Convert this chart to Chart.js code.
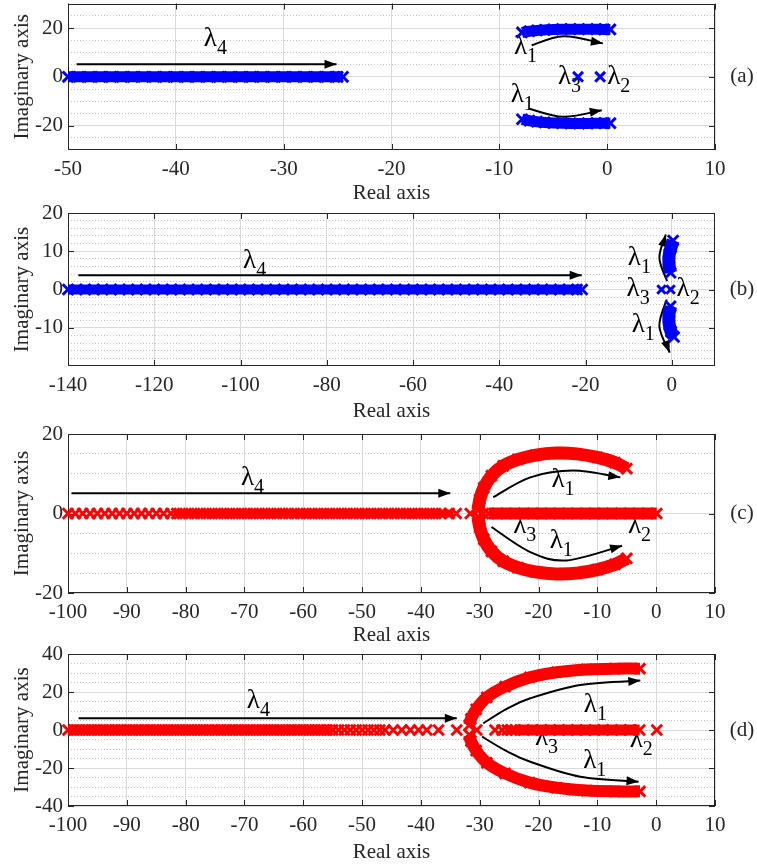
<!DOCTYPE html>
<html>
<head>
<meta charset="utf-8">
<script src="https://cdn.jsdelivr.net/npm/chart.js@4.4.0/dist/chart.umd.min.js"></script>
<style>
  html, body { margin: 0; padding: 0; background: #fff; width: 757px; height: 867px; overflow: hidden; position: relative; }
  canvas { position: absolute; left: 0; }
</style>
</head>
<body>
<canvas id="pa" width="757" height="220" style="top:-14px"></canvas>
<canvas id="pb" width="757" height="229" style="top:195px"></canvas>
<canvas id="pc" width="757" height="234" style="top:414px"></canvas>
<canvas id="pd" width="757" height="231" style="top:634px"></canvas>
<script>
const FONT = '"Liberation Serif", "Times New Roman", serif';
const AXIS = '#262626';
const GRID = '#dadada';
const MINOR = '#c4c4c4';
const BLUE = '#0000ff';
const RED = '#ff0000';

// ---- panel (a) ----
const aRealTicks = [-50, -40, -30, -20, -10, 0, 10];
const aImagTicks = [-20, 0, 20];
const aLam4Re = [-50, -49, -48, -47, -46, -45, -44, -43, -42, -41, -40, -39, -38, -37, -36, -35, -34, -33, -32, -31, -30, -29, -28, -27, -26, -25, -24.5];
const aLam1Re = [-7.9, -7.2, -6.5, -5.8, -5.0, -4.2, -3.4, -2.6, -1.8, -1.0, -0.3, 0.3];
const aLam1UpIm = [18.2, 18.7, 19.0, 19.2, 19.4, 19.5, 19.5, 19.5, 19.5, 19.5, 19.4, 19.4];
const aLam1LoIm = [-17.4, -18.0, -18.4, -18.7, -18.9, -19.0, -19.1, -19.1, -19.1, -19.0, -19.0, -19.0];
const aLam3Re = [-2.7];
const aLam2Re = [-0.65];

// ---- panel (b) ----
const bRealTicks = [-140, -120, -100, -80, -60, -40, -20, 0];
const bImagTicks = [-10, 0, 10, 20];
const bLam4Re = [-140, -138, -136, -134, -132, -130, -128, -126, -124, -122, -120, -118, -116, -114, -112, -110, -108, -106, -104, -102,
  -100, -98, -96, -94, -92, -90, -88, -86, -84, -82, -80, -78, -76, -74, -72, -70, -68, -66, -64, -62,
  -60, -58, -56, -54, -52, -50, -48, -46, -44, -42, -40, -38, -36, -34, -32, -30, -28, -26, -24, -22, -20.8];
const bLam1UpRe = [0.3, -0.2, -0.6, -0.7, -0.6, -0.3];
const bLam1UpIm = [12.8, 11.0, 9.2, 7.6, 6.0, 4.4];
const bLam1LoRe = [-0.3, -0.6, -0.7, -0.6, -0.2, 0.5];
const bLam1LoIm = [-4.4, -6.0, -7.6, -9.2, -11.0, -12.4];
const bLam3Re = [-2.4];
const bLam2Re = [-0.3];

// ---- panel (c) ----
const cRealTicks = [-100, -90, -80, -70, -60, -50, -40, -30, -20, -10, 0, 10];
const cImagTicks = [-20, 0, 20];
const cLam4Re = [-100, -98.75, -97.5, -96.25, -95, -93.75, -92.5, -91.25, -90, -88.75, -87.5, -86.25, -85, -83.75, -82.5,
  -81.5, -80.5, -79.5, -78.5, -77.5, -76.5, -75.5, -74.5, -73.5, -72.5, -71.5, -70.5, -69.5, -68.5, -67.5, -66.5,
  -65.5, -64.5, -63.5, -62.5, -61.5, -60.5, -59.5, -58.5, -57.5, -56.5, -55.5, -54.5, -53.5, -52.5, -51.5, -50.5,
  -49.5, -48.5, -47.5, -46.5, -45.5, -44.5, -43.5, -42.5, -41.5, -40.5, -39.5, -38.5, -37.5, -36.5, -35.2, -34.0,
  -31.6, -29.4];
const cLam4DenseRe = [-82, -34.5];
const cLam3Re = [-28.5, -27, -25.5, -24, -22.5, -21, -19.5, -18, -16.5, -15, -13.5, -12, -10.5, -9, -7.5, -6, -4.5, -3, -1.5, 0.1];
const cLam1Re = [-30.3, -30.0, -29.3, -28.0, -26.0, -23.5, -20.5, -17.0, -13.5, -10.0, -7.0, -5.0];
const cLam1UpIm = [0.8, 3.5, 6.5, 9.5, 12.0, 13.6, 14.7, 15.2, 15.0, 14.1, 12.8, 11.3];
const cLam1LoIm = [-0.8, -3.5, -6.5, -9.5, -12.0, -13.6, -14.7, -15.2, -15.0, -14.1, -12.8, -11.3];

// ---- panel (d) ----
const dRealTicks = [-100, -90, -80, -70, -60, -50, -40, -30, -20, -10, 0, 10];
const dImagTicks = [-40, -20, 0, 20, 40];
const dLam4Re = [-100, -99, -98, -97, -96, -95, -94, -93, -92, -91, -90, -89, -88, -87, -86, -85, -84, -83, -82, -81,
  -80, -79, -78, -77, -76, -75, -74, -73, -72, -71, -70, -69, -68, -67, -66, -65, -64, -63, -62, -61,
  -60, -59, -58, -57, -56, -55, -54, -53, -52, -51, -50, -49, -48, -47,
  -46.1, -44.7, -43.25, -41.8, -40.4, -39.0, -37.0, -33.9];
const dLam4DenseRe = [-100, -55];
const dLam3SparseRe = [-30.5, -27.4, -26.2, -25.3, -24.6];
const dLam3Re = [-24, -22.5, -21, -19.5, -18, -16.5, -15, -13.5, -12, -10.5, -9, -7.5, -6, -4.5, -2.8];
const dLam2Re = [0.1];
const dLam1Re = [-31.8, -31.5, -30.6, -28.8, -25.7, -21.5, -16.9, -11.8, -7.0, -2.75];
const dLam1UpIm = [2.5, 5.8, 10.9, 17.2, 22.8, 27.7, 30.4, 31.9, 32.3, 32.3];
const dLam1LoIm = [-2.5, -5.8, -10.9, -17.2, -22.8, -27.7, -30.4, -31.9, -32.3, -32.3];

// annotations (data coordinates)
const aArrows = [[[-49.2, 5.1], [-25.1, 5.1]], [[-7.0, 12.9], [-4.05, 16.6], [-0.4, 13.7]], [[-7.2, -13.1], [-4.05, -16.4], [-0.5, -13.7]]];
const bArrows = [[[-137.6, 3.7], [-20.9, 3.7]], [[-1.1, 2.2], [-2.9, 8.3], [-1.4, 14.4]], [[-1.2, -2.6], [-2.9, -9.6], [-0.5, -16.5]]];
const cArrows = [[[-99.4, 5.1], [-35.0, 5.1]], [[-27.7, 4.1], [-21.4, 9.1], [-14.1, 10.8], [-6.1, 9.1]], [[-28, -3.4], [-21.4, -9.7], [-15.2, -11.8], [-5.8, -8.1]]];
const dArrows = [[[-98.2, 6.2], [-33.9, 6.2]], [[-29.4, 3.5], [-25.5, 11], [-21.4, 16.7], [-12.9, 23.7], [-2.7, 26]], [[-29.6, -3.5], [-25.5, -11], [-21.4, -16.7], [-12.9, -24.6], [-3.0, -27.2]]];

const aLabels = [[-37.4, 12.8, '4'], [-8.64, 9.2, '1'], [-4.56, -3.0, '3'], [0.0, -3.0, '2'], [-8.95, -10.5, '1']];
const bLabels = [[-99.4, 5.7, '4'], [-10.2, 6.5, '1'], [-10.5, -1.8, '3'], [1.1, -1.8, '2'], [-9.3, -11.2, '1']];
const cLabels = [[-70.6, 7.1, '4'], [-17.8, 6.6, '1'], [-24.3, -5.0, '3'], [-18.1, -8.7, '1'], [-4.8, -5.0, '2']];
const dLabels = [[-69.6, 11.6, '4'], [-12.3, 9.5, '1'], [-20.6, -7.9, '3'], [-4.5, -8.9, '2'], [-12.4, -20, '1']];

const onAxis = re => re.map(x => ({x, y: 0}));
const zip = (re, im) => re.map((x, i) => ({x, y: im[i]}));

// crosses, optionally joined by a thick band line
function locus(points, color, band, radius = 7.5) {
  return {
    data: points,
    yAxisID: 'y',
    showLine: band > 0,
    borderColor: color,
    borderWidth: band,
    borderCapStyle: 'butt',
    tension: 0.3,
    pointStyle: 'crossRot',
    pointRadius: radius,
    pointBorderWidth: 3,
    pointBorderColor: color,
    pointBackgroundColor: color,
    clip: false
  };
}

function minorValues(min, max, step, majors) {
  const out = [];
  for (let v = min + step; v < max - 1e-9; v += step) {
    const r = Math.round(v * 1000) / 1000;
    if (!majors.includes(r)) out.push(r);
  }
  return out;
}

function curve(ctx, pts) {
  ctx.beginPath();
  ctx.moveTo(pts[0][0], pts[0][1]);
  let from = pts[0];
  for (let i = 0; i < pts.length - 1; i++) {
    const p0 = pts[Math.max(i - 1, 0)], p1 = pts[i], p2 = pts[i + 1], p3 = pts[Math.min(i + 2, pts.length - 1)];
    const c1 = [p1[0] + (p2[0] - p0[0]) / 6, p1[1] + (p2[1] - p0[1]) / 6];
    const c2 = [p2[0] - (p3[0] - p1[0]) / 6, p2[1] - (p3[1] - p1[1]) / 6];
    ctx.bezierCurveTo(c1[0], c1[1], c2[0], c2[1], p2[0], p2[1]);
    from = c2;
  }
  ctx.stroke();
  const tip = pts[pts.length - 1];
  let dx = tip[0] - from[0], dy = tip[1] - from[1];
  if (Math.hypot(dx, dy) < 1e-6) { dx = tip[0] - pts[pts.length - 2][0]; dy = tip[1] - pts[pts.length - 2][1]; }
  const ang = Math.atan2(dy, dx);
  const len = 12, half = 4.5;
  ctx.beginPath();
  ctx.moveTo(tip[0], tip[1]);
  ctx.lineTo(tip[0] - len * Math.cos(ang) + half * Math.sin(ang), tip[1] - len * Math.sin(ang) - half * Math.cos(ang));
  ctx.lineTo(tip[0] - len * Math.cos(ang) - half * Math.sin(ang), tip[1] - len * Math.sin(ang) + half * Math.cos(ang));
  ctx.closePath();
  ctx.fill();
}

const decor = {
  id: 'decor',
  beforeDatasetsDraw(chart, args, opts) {
    const {ctx, chartArea: a} = chart;
    const x = chart.scales.x, y = chart.scales.y;
    ctx.save();
    // box and inward ticks
    ctx.strokeStyle = AXIS;
    ctx.lineWidth = 1;
    ctx.strokeRect(Math.round(a.left) + 0.5, Math.round(a.top) + 0.5, Math.round(a.right - a.left) - 1, Math.round(a.bottom - a.top) - 1);
    ctx.beginPath();
    x.ticks.forEach(t => {
      const px = Math.round(x.getPixelForValue(t.value)) + 0.5;
      ctx.moveTo(px, a.bottom); ctx.lineTo(px, a.bottom - 6);
      ctx.moveTo(px, a.top); ctx.lineTo(px, a.top + 6);
    });
    y.ticks.forEach(t => {
      const py = Math.round(y.getPixelForValue(t.value)) + 0.5;
      ctx.moveTo(a.left, py); ctx.lineTo(a.left + 6, py);
      ctx.moveTo(a.right, py); ctx.lineTo(a.right - 6, py);
    });
    ctx.stroke();
    // arrows
    ctx.strokeStyle = '#000';
    ctx.fillStyle = '#000';
    ctx.lineWidth = 2;
    opts.arrows.forEach(path => curve(ctx, path.map(p => [x.getPixelForValue(p[0]), y.getPixelForValue(p[1])])));
    // lambda labels
    ctx.textBaseline = 'alphabetic';
    ctx.textAlign = 'left';
    opts.labels.forEach(([re, im, sub]) => {
      const px = x.getPixelForValue(re), py = y.getPixelForValue(im);
      ctx.font = '27px ' + FONT;
      ctx.fillText('λ', px, py);
      const w = ctx.measureText('λ').width;
      ctx.font = '20px ' + FONT;
      ctx.fillText(sub, px + w, py + 8);
    });
    // panel tag
    ctx.fillStyle = AXIS;
    ctx.font = '21px ' + FONT;
    ctx.textAlign = 'center';
    ctx.textBaseline = 'middle';
    ctx.fillText(opts.tag, a.right + 27, y.getPixelForValue(0));
    ctx.restore();
  }
};

function panel(id, p) {
  const tickFont = {family: FONT, size: 21};
  return new Chart(document.getElementById(id), {
    type: 'scatter',
    data: {datasets: p.datasets},
    options: {
      responsive: false,
      animation: false,
      devicePixelRatio: 1,
      events: [],
      layout: {padding: {top: p.padTop, right: 42, bottom: 0, left: 0}},
      plugins: {
        legend: {display: false},
        tooltip: {enabled: false},
        decor: {arrows: p.arrows, labels: p.labels, tag: p.tag}
      },
      scales: {
        x: {
          type: 'linear', position: 'bottom', min: p.xMin, max: p.xMax, bounds: 'data',
          afterBuildTicks: s => { s.ticks = p.xTicks.map(v => ({value: v})); },
          afterFit: s => { s.height = p.xHeight; },
          ticks: {color: AXIS, font: tickFont, padding: 7, maxRotation: 0, autoSkip: false, callback: v => String(v)},
          grid: {color: GRID, lineWidth: 1, drawTicks: false},
          border: {display: false},
          title: {display: true, text: 'Real axis', color: AXIS, font: tickFont, padding: 0}
        },
        y: {
          type: 'linear', position: 'left', min: p.yMin, max: p.yMax, bounds: 'data',
          afterBuildTicks: s => { s.ticks = p.yTicks.map(v => ({value: v})); },
          afterFit: s => { s.width = 68; },
          ticks: {color: AXIS, font: tickFont, padding: 5, autoSkip: false, callback: v => String(v)},
          grid: {color: GRID, lineWidth: 1, drawTicks: false},
          border: {display: false},
          title: {display: true, text: 'Imaginary axis', color: AXIS, font: tickFont, padding: {top: 10, bottom: 0}}
        },
        yMinor: {
          type: 'linear', position: 'left', min: p.yMin, max: p.yMax, bounds: 'data',
          afterBuildTicks: s => { s.ticks = minorValues(p.yMin, p.yMax, p.yMinorStep, p.yTicks).map(v => ({value: v})); },
          afterFit: s => { s.width = 0; },
          ticks: {display: false},
          grid: {color: MINOR, lineWidth: 1, drawTicks: false},
          border: {display: false, dash: [1, 2]},
          title: {display: false}
        }
      }
    },
    plugins: [decor]
  });
}

panel('pa', {
  padTop: 13, xHeight: 56, xMin: -50, xMax: 10, yMin: -30, yMax: 30, yMinorStep: 5,
  xTicks: aRealTicks, yTicks: aImagTicks, arrows: aArrows, labels: aLabels, tag: '(a)',
  datasets: [
    locus(onAxis(aLam4Re), BLUE, 11),
    locus(zip(aLam1Re, aLam1UpIm), BLUE, 11),
    locus(zip(aLam1Re, aLam1LoIm), BLUE, 11),
    locus(onAxis(aLam3Re), BLUE, 0, 7),
    locus(onAxis(aLam2Re), BLUE, 0, 7)
  ]
});

panel('pb', {
  padTop: 18, xHeight: 58, xMin: -140, xMax: 10, yMin: -20, yMax: 20, yMinorStep: 2,
  xTicks: bRealTicks, yTicks: bImagTicks, arrows: bArrows, labels: bLabels, tag: '(b)',
  datasets: [
    locus(onAxis(bLam4Re), BLUE, 10),
    locus(zip(bLam1UpRe, bLam1UpIm), BLUE, 13),
    locus(zip(bLam1LoRe, bLam1LoIm), BLUE, 13),
    locus(onAxis(bLam3Re), BLUE, 0, 6),
    locus(onAxis(bLam2Re), BLUE, 0, 6)
  ]
});

panel('pc', {
  padTop: 20, xHeight: 55, xMin: -100, xMax: 10, yMin: -20, yMax: 20, yMinorStep: 5,
  xTicks: cRealTicks, yTicks: cImagTicks, arrows: cArrows, labels: cLabels, tag: '(c)',
  datasets: [
    Object.assign(locus(onAxis(cLam4DenseRe), RED, 8), {pointRadius: 0}),
    locus(onAxis(cLam4Re), RED, 0),
    locus(onAxis(cLam3Re), RED, 12),
    locus(zip(cLam1Re, cLam1UpIm), RED, 13),
    locus(zip(cLam1Re, cLam1LoIm), RED, 13)
  ]
});

panel('pd', {
  padTop: 20, xHeight: 59, xMin: -100, xMax: 10, yMin: -40, yMax: 40, yMinorStep: 5,
  xTicks: dRealTicks, yTicks: dImagTicks, arrows: dArrows, labels: dLabels, tag: '(d)',
  datasets: [
    Object.assign(locus(onAxis(dLam4DenseRe), RED, 11), {pointRadius: 0}),
    locus(onAxis(dLam4Re), RED, 0),
    locus(onAxis(dLam3SparseRe), RED, 0),
    locus(onAxis(dLam3Re), RED, 11),
    locus(onAxis(dLam2Re), RED, 0),
    locus(zip(dLam1Re, dLam1UpIm), RED, 12),
    locus(zip(dLam1Re, dLam1LoIm), RED, 12)
  ]
});
</script>
</body>
</html>
